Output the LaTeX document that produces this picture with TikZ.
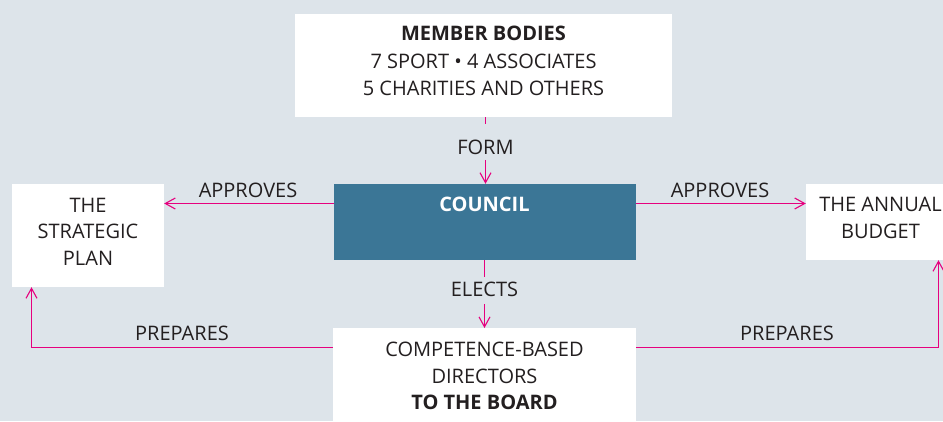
\documentclass[tikz,border=0pt]{standalone}
\usepackage{fontspec}
\setmainfont{Open Sans}
\usetikzlibrary{arrows.meta}
\definecolor{bg}{HTML}{DDE4EA}
\definecolor{councilc}{HTML}{3B7696}
\definecolor{mag}{HTML}{E6007E}
\definecolor{txt}{HTML}{231F20}
\tikzset{
  wbox/.style={fill=white, inner sep=0pt},
  btxt/.style={inner sep=0pt, align=center, text=txt, font=\fontsize{20}{26.5}\selectfont},
  lbl/.style={inner sep=0pt, text height=14.5pt, text depth=0pt, text=txt, font=\fontsize{20}{24}\selectfont},
  arr/.style={draw=mag, line width=1.2pt, -{Straight Barb[length=10pt,width=11pt,line width=1.1pt]}},
  seg/.style={draw=mag, line width=1.2pt},
}
\begin{document}
\begin{tikzpicture}[x=1pt,y=-1pt]
\useasboundingbox[fill=bg] (0,0) rectangle (943,421);
\clip (0,0) rectangle (943,421);
% boxes
\node[wbox, minimum width=377pt, minimum height=103pt] (members) at (483.5,65.5) {};
\node[btxt, font=\fontsize{20}{27.5}\selectfont] (memberstxt) at (483.5,61)
  {\textbf{MEMBER BODIES}\\7 SPORT • 4 ASSOCIATES\\5 CHARITIES AND OTHERS};
\node[fill=councilc, inner sep=0pt, minimum width=302pt, minimum height=76pt] (council) at (485,222) {};
\node[inner sep=0pt, text=white, font=\fontsize{20}{24}\selectfont\bfseries] (counciltxt) at (484.5,204.5) {COUNCIL};
\node[wbox, minimum width=303pt, minimum height=100pt, anchor=north] (board) at (484.5,328) {};
\node[btxt] (boardtxt) at (484.5,376)
  {COMPETENCE-BASED\\DIRECTORS\\\textbf{TO THE BOARD}};
\node[wbox, minimum width=152pt, minimum height=103pt] (strat) at (88,235.5) {};
\node[btxt] (strattxt) at (88,231.5) {THE\\STRATEGIC\\PLAN};
\node[wbox, minimum width=149pt, minimum height=76pt] (budget) at (880.5,222) {};
\node[btxt] (budgettxt) at (880.5,218) {THE ANNUAL\\BUDGET};
% labels
\node[lbl] (lapl) at (248,190) {APPROVES};
\node[lbl] (lapr) at (720,190) {APPROVES};
\node[lbl] (lprl) at (182,333) {PREPARES};
\node[lbl] (lprr) at (787,333) {PREPARES};
\node[lbl] (lform) at (485.5,147) {FORM};
\node[lbl] (lelect) at (484.5,289.5) {ELECTS};
% connectors
\coordinate (al) at (334,203.5);
\coordinate (pl) at (31.5,347.5);
\coordinate (pr) at (938.5,347.5);
\draw[arr] (al) -- (al -| strat.east);
\draw[arr] (al -| council.east) -- (al -| budget.west);
\draw[arr] (board.west |- pl) -- (pl) -- (pl |- strat.south);
\draw[arr] (board.east |- pr) -- (pr) -- (pr |- budget.south);
\draw[seg] (members.south -| lform.north) -- ([yshift=16pt]lform.north);
\draw[arr] ([yshift=-5.5pt]lform.south) -- (council.north -| lform.south);
\draw[seg] (council.south -| lelect.north) -- ([yshift=5pt]lelect.north);
\draw[arr] ([yshift=-7pt]lelect.south) -- (board.north -| lelect.south);
\end{tikzpicture}
\end{document}
